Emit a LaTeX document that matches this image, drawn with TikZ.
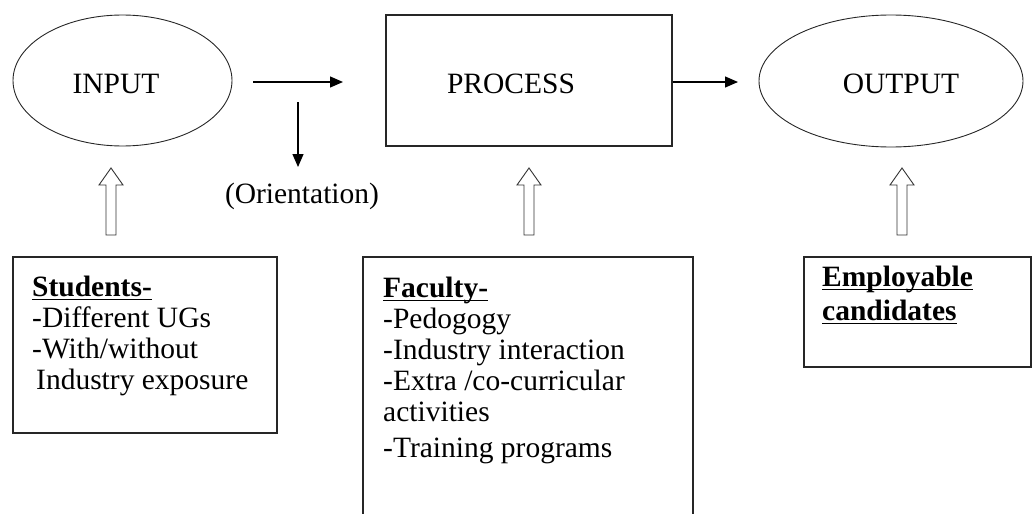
\documentclass[tikz,border=0pt]{standalone}
\usepackage{fontspec}
\setmainfont{Liberation Serif}
\usetikzlibrary{arrows.meta,shapes.geometric}

% bold heading with a thick underline drawn through the descenders
\newcommand\headbar[1]{\setbox0\hbox{\textbf{#1}}\rlap{\rule[-4pt]{\wd0}{1.5pt}}\box0}

\tikzset{
  every node/.style={font=\fontsize{29.5}{31}\selectfont, inner sep=0pt},
  oval/.style={draw=black!85, line width=0.9pt, ellipse},
  box/.style={draw=black!85, line width=1.1pt, rectangle},
  flow/.style={line width=1.2pt, -{Triangle[length=13pt,width=11pt]}},
  bodytext/.style={anchor=north west, align=left},
  hollowup/.pic={
    \draw[line width=0.9pt, draw=black!80, fill=white]
      (-5,0) -- (-5,-50) -- (-12,-50) -- (0,-67) -- (12,-50) -- (5,-50) -- (5,0) -- cycle;
  }
}

\begin{document}
\begin{tikzpicture}[x=1pt, y=-1pt]
  \useasboundingbox (0,0) rectangle (1034,514);
  \clip (0,0) rectangle (1034,514);

  % top row: input, process, output
  \node[oval, minimum width=219, minimum height=131] (inp) at (122.5,80.5) {};
  \node[anchor=base] (inptxt) at (116,93) {INPUT};

  \node[box, minimum width=286, minimum height=131] (proc) at (529,80.5) {};
  \node[anchor=base] (proctxt) at (511,93) {PROCESS};

  \node[oval, minimum width=264, minimum height=132] (outp) at (891,81) {};
  \node[anchor=base] (outtxt) at (901,93) {OUTPUT};

  % flow arrows
  \coordinate (flowA) at (253,82);
  \coordinate (flowB) at (343,82);
  \draw[flow] (flowA) -- (flowB);

  \coordinate (orTop) at (298,102);
  \node[anchor=base] (orient) at (302,203) {(Orientation)};
  \coordinate (orTip) at (298,167);
  \draw[flow] (orTop) -- (orTip);

  \coordinate (procOut) at (proc.east |- 0,82);
  \coordinate (outIn) at (738,82);
  \draw[flow] (procOut) -- (outIn);

  % bottom row: contributing factors
  \node[box, minimum width=264, minimum height=176] (stud) at (145,345) {};
  \node[bodytext] (studtxt) at (32,274)
    {\rule{0pt}{22pt}\headbar{Students-}\\
     -Different UGs\\
     -With/without\\
     \hspace{4pt}Industry exposure};

  \node[box, minimum width=330, minimum height=283] (fac) at (528,398.5) {};
  \node[bodytext] (factxt) at (383,275)
    {\rule{0pt}{22pt}\headbar{Faculty-}\\
     -Pedogogy\\
     -Industry interaction\\
     -Extra /co-curricular\\
     activities\\[5pt]
     -Training programs};

  \node[box, minimum width=227, minimum height=110] (emp) at (917.5,312) {};
  \node[bodytext] (emptxt) at (822,264)
    {\rule{0pt}{22pt}\headbar{Employable}\\[3pt]
     \headbar{candidates}};

  % hollow arrows feeding each stage
  \pic at (111,235) {hollowup};
  \pic at (529,235) {hollowup};
  \pic at (902,235) {hollowup};
\end{tikzpicture}
\end{document}
